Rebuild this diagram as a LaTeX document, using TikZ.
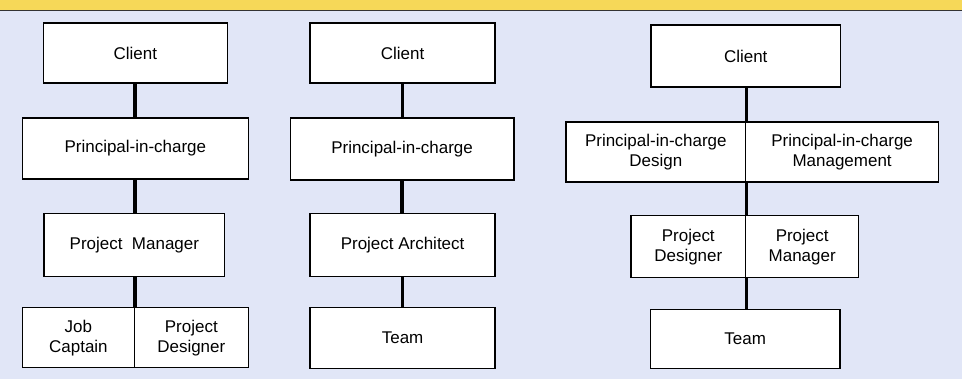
\documentclass[tikz,border=0pt]{standalone}
\usepackage{fontspec}
\setmainfont{Liberation Sans}
\usetikzlibrary{positioning}
\definecolor{paper}{RGB}{225,230,247}
\definecolor{band}{RGB}{246,216,88}
\tikzset{
  box/.style={draw,fill=white,line width=1.4pt,inner sep=0pt,align=center,
    font=\fontsize{17}{20}\selectfont},
  link/.style={line width=3.8pt}
}

\begin{document}
\begin{tikzpicture}[x=1pt,y=-1pt]
% Page and top band
\fill[paper] (0,0) rectangle (962,379);
\fill[band] (0,0) rectangle (962,10);
\draw[line width=1pt,black!80] (0,10.5) -- (962,10.5);
\useasboundingbox (0,0) rectangle (962,379);

% First chart
\node[box,minimum width=184,minimum height=60] (C1) at (135,53) {Client};
\node[box,minimum width=226,minimum height=61] (P1) at (135,148.5) {Principal-in-charge};
\node[box,minimum width=181,minimum height=63] (M1) at (134,245.5) {Project\ \ Manager};
\node[box,minimum width=112,minimum height=60] (J1) at (78,338) {Job\\Captain};
\node[box,minimum width=114,minimum height=60] (D1) at (191,338) {Project\\Designer};

\draw[link] (C1.south) -- (C1.south |- P1.north);
\draw[link] (P1.south) -- (P1.south |- M1.north);
\draw[link] (J1.north east |- M1.south) -- (J1.north east);

% Second chart
\node[box,minimum width=185,minimum height=60] (C2) at (402.5,53) {Client};
\node[box,minimum width=224,minimum height=62] (P2) at (402,149) {Principal-in-charge};
\node[box,minimum width=185,minimum height=63] (A2) at (402.5,245.5) {Project Architect};
\node[box,minimum width=185,minimum height=61] (T2) at (402.5,338.5) {Team};

\draw[link] (C2.south) -- (C2.south |- P2.north);
\draw[link] (P2.south) -- (P2.south |- A2.north);
\draw[link] (A2.south) -- (A2.south |- T2.north);

% Third chart
\node[box,minimum width=190,minimum height=62] (C3) at (746,56) {Client};
\node[box,minimum width=180,minimum height=60] (PD3) at (656,152) {Principal-in-charge\\Design};
\node[box,minimum width=193,minimum height=60] (PM3) at (842.5,152) {Principal-in-charge\\Management};
\node[box,minimum width=115,minimum height=62] (PP3) at (688.5,247) {Project\\Designer};
\node[box,minimum width=113,minimum height=62] (PG3) at (802.5,247) {Project\\Manager};
\node[box,minimum width=190,minimum height=59] (T3) at (745.5,339.5) {Team};

\draw[link] (PD3.north east |- C3.south) -- (PD3.north east);
\draw[link] (PD3.south east) -- (PP3.north east);
\draw[link] (PP3.south east) -- (PP3.south east |- T3.north);
\end{tikzpicture}
\end{document}
